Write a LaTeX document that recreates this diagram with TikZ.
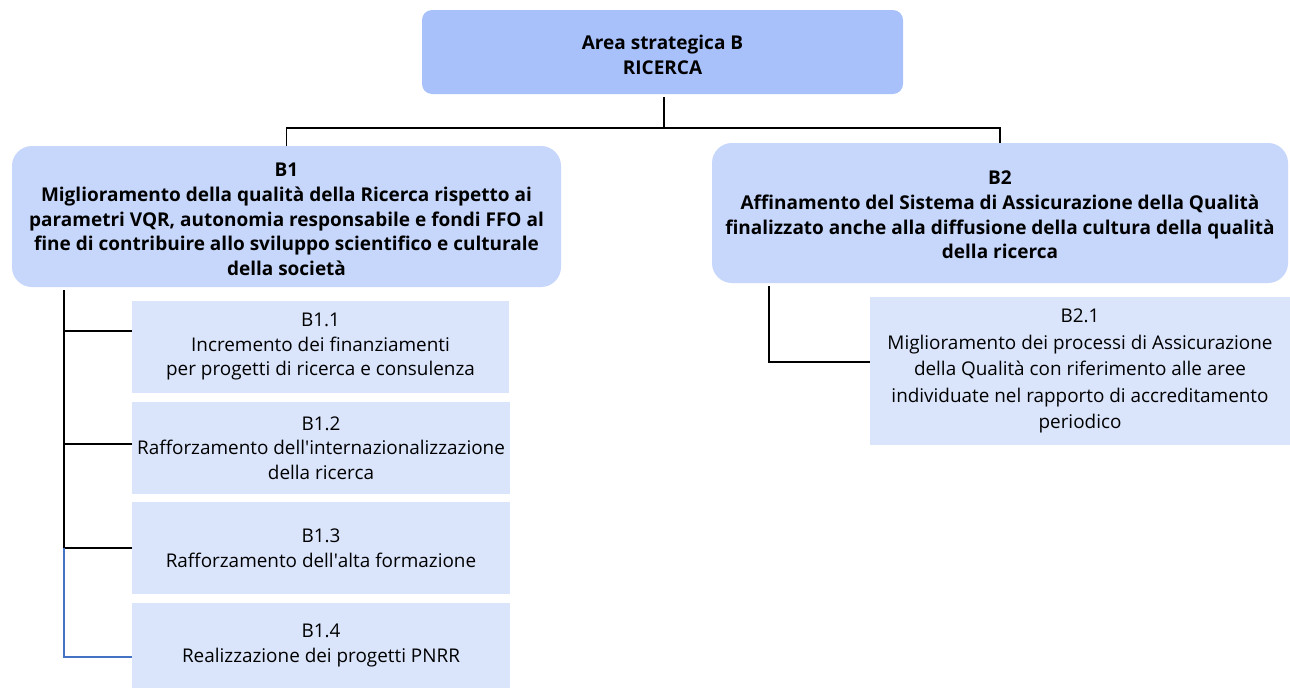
\documentclass[tikz,border=0pt]{standalone}
\usepackage{fontspec}
\setmainfont{Open Sans}
\newfontfamily\osplain{Open Sans}
\newcommand{\apos}{{\osplain\char"27}}
\definecolor{topc}{HTML}{A9C1FB}
\definecolor{midc}{HTML}{C6D7FB}
\definecolor{leafc}{HTML}{DAE5FC}
\definecolor{bluel}{HTML}{4472C4}
\tikzset{
  topbox/.style={fill=topc, rounded corners=10pt, inner sep=0pt},
  midbox/.style={fill=midc, rounded corners=20pt, inner sep=0pt},
  boldtext/.style={inner sep=0pt, align=center, font=\fontsize{19}{24.75}\selectfont\bfseries},
  leafbox/.style={fill=leafc, inner sep=0pt, align=center, font=\fontsize{18.9}{24.5}\selectfont},
  conn/.style={draw=black, line width=1.7pt},
  connb/.style={draw=bluel, line width=1.7pt},
}
\begin{document}
\begin{tikzpicture}[x=1pt,y=-1pt]
\useasboundingbox[fill=white] (0,0) rectangle (1290,688);
\node[topbox, minimum width=481pt, minimum height=84pt] (top) at (662.5,52) {};
\node[boldtext] (toptext) at ([yshift=-3pt]top.center) {Area strategica B\\RICERCA};
\node[midbox, minimum width=549pt, minimum height=141pt] (B1) at (286.5,216.5) {};
\node[boldtext] (B1text) at ([yshift=-3pt]B1.center) {B1\\Miglioramento della qualità della Ricerca rispetto ai\\parametri VQR, autonomia responsabile e fondi FFO al\\fine di contribuire allo sviluppo scientifico e culturale\\della società};
\node[midbox, minimum width=576pt, minimum height=140pt] (B2) at (1000,213) {};
\node[boldtext] (B2text) at ([yshift=-2pt]B2.center) {B2\\Affinamento del Sistema di Assicurazione della Qualità\\finalizzato anche alla diffusione della cultura della qualità\\della ricerca};
\node[leafbox, minimum width=377pt, minimum height=92pt] (B11) at (320.5,347) {B1.1\\Incremento dei finanziamenti\\per progetti di ricerca e consulenza};
\node[leafbox, minimum width=378pt, minimum height=92pt] (B12) at (321,448) {B1.2\\Rafforzamento dell\apos internazionalizzazione\\della ricerca};
\node[leafbox, minimum width=378pt, minimum height=92pt] (B13) at (321,548) {B1.3\\Rafforzamento dell\apos alta formazione};
\node[leafbox, minimum width=378pt, minimum height=85pt] (B14) at (321,645.5) {B1.4\\Realizzazione dei progetti PNRR};
\node[leafbox, minimum width=420pt, minimum height=148pt, font=\fontsize{18.9}{26.5}\selectfont] (B21) at (1080,371) {B2.1\\Miglioramento dei processi di Assicurazione\\della Qualità con riferimento alle aree\\individuate nel rapporto di accreditamento\\periodico};
% top connectors
\coordinate (tb) at (664,97);
\coordinate (hb) at (664,128);
\draw[conn] (tb) -- (hb) -| (B1.north);
\draw[conn] (hb) -| (B2.north);
% B1 children
\coordinate (t1) at (64,290);
\coordinate (j3) at (64,548);
\draw[conn] (t1) |- ([yshift=16pt]B11.west);
\draw[conn] (t1) |- ([yshift=4pt]B12.west);
\draw[conn] (t1) |- (B13.west);
\draw[connb] (j3) |- ([yshift=-11.5pt]B14.west);
% B2 child
\coordinate (t2) at (769,286);
\draw[conn] (t2) |- ([yshift=9pt]B21.west);
\end{tikzpicture}
\end{document}
